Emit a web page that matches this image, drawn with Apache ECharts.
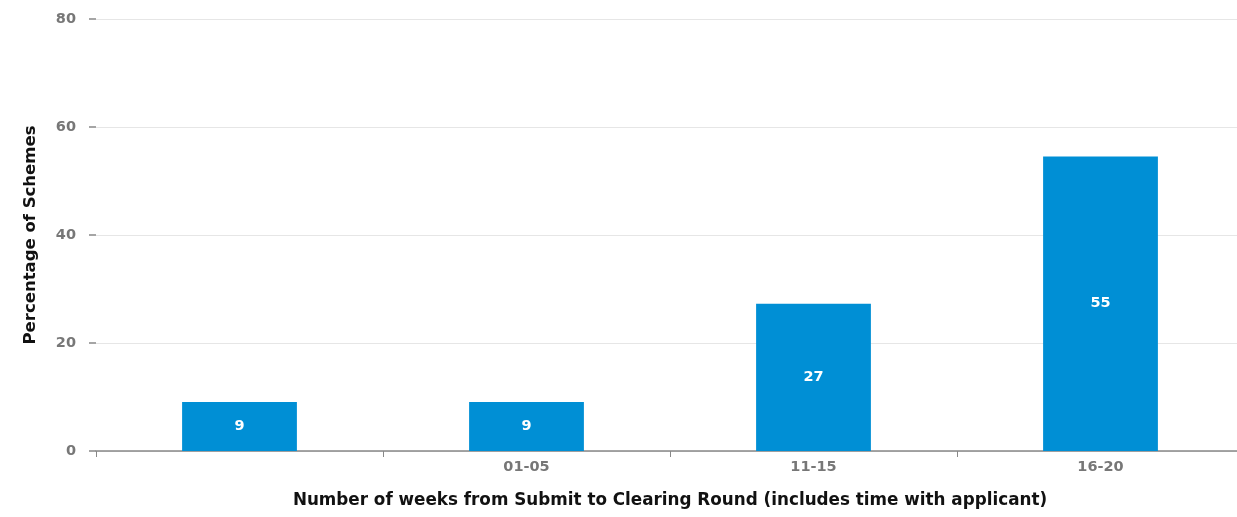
<!doctype html>
<html lang="en">
<head>
<meta charset="UTF-8"/>
<title>Weeks from Submit to Clearing Round</title>
<script src="https://cdn.jsdelivr.net/npm/echarts@6/dist/echarts.min.js"></script>
<style>
	html, body { margin: 0; padding: 0; background: #fff; overflow: hidden; }
	/* plot runs slightly past the right edge, as in the source image */
	#main { width: 1244px; height: 517px; }
</style>
</head>
<body>
	<div id="main"></div>
	<script type="text/javascript">
		// chart data
		var categories = ['', '01-05', '11-15', '16-20'];
		var percentages = [9.09, 9.09, 27.27, 54.55];
		var yTicks = [0, 20, 40, 60, 80];

		var myChart = echarts.init(document.getElementById('main'));
		var option = {
			animation : false,
			textStyle : { fontFamily : 'DejaVu Sans, Verdana, sans-serif' },
			grid : {
				left : 96,
				top : 19,
				right : 0,
				bottom : 66
			},
			xAxis : {
				type : 'category',
				data : categories,
				name : 'Number of weeks from Submit to Clearing Round (includes time with applicant)',
				nameLocation : 'middle',
				nameGap : 41,
				nameTextStyle : { color : '#111', fontWeight : 'bold', fontSize : 16.8 },
				axisLine : { lineStyle : { color : '#888', width : 1.5 } },
				axisTick : { show : true, length : 6, lineStyle : { color : '#888' } },
				axisLabel : { color : '#777', fontWeight : 'bold', fontSize : 14.5, margin : 9 }
			},
			yAxis : {
				type : 'value',
				min : yTicks[0],
				max : yTicks[yTicks.length - 1],
				interval : 20,
				name : 'Percentage of Schemes',
				nameLocation : 'middle',
				nameGap : 57,
				nameTextStyle : { color : '#111', fontWeight : 'bold', fontSize : 16.5 },
				axisLine : { show : false },
				axisTick : { show : true, length : 7, lineStyle : { color : '#888', width : 1.5 } },
				axisLabel : { color : '#777', fontWeight : 'bold', fontSize : 14.5, margin : 20 },
				splitLine : { lineStyle : { color : '#e6e6e6' } }
			},
			series : [ {
				type : 'bar',
				data : percentages,
				barWidth : '40%',
				itemStyle : { color : '#008fd5' },
				label : {
					show : true,
					position : 'inside',
					color : '#fff',
					fontWeight : 'bold',
					fontSize : 14.5,
					formatter : function (p) { return Math.round(p.value); }
				}
			} ]
		};
		myChart.setOption(option);
	</script>
</body>
</html>
